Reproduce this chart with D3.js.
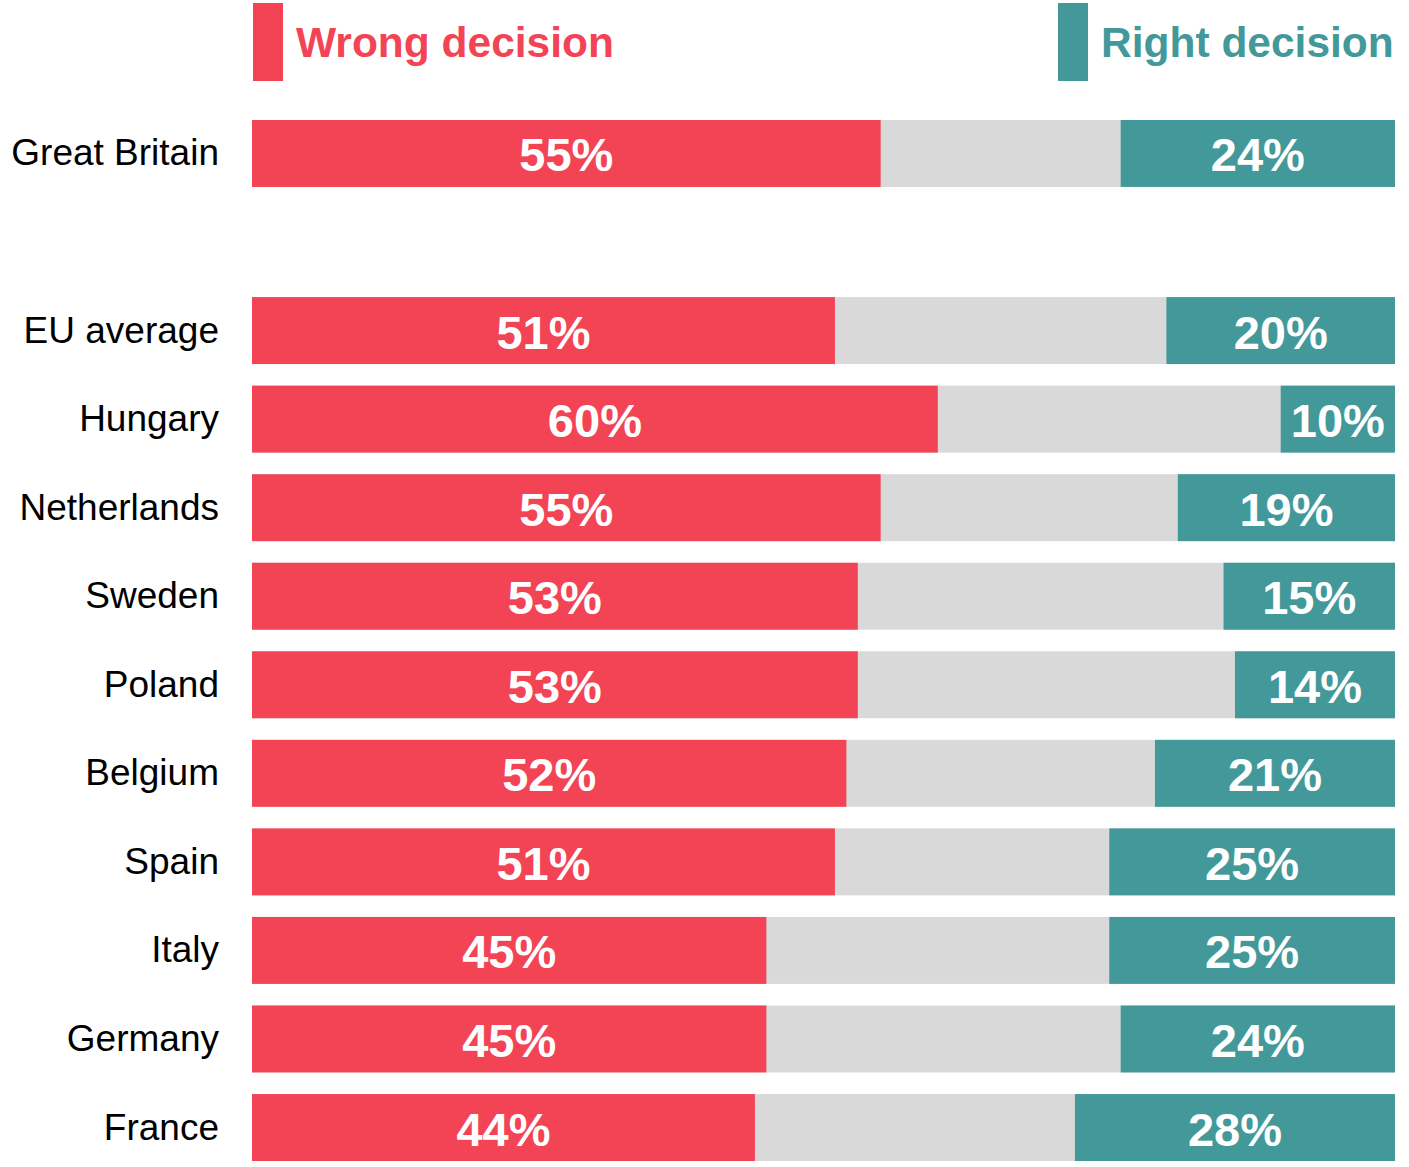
<!DOCTYPE html>
<html>
<head>
<meta charset="utf-8">
<script src="https://cdn.jsdelivr.net/npm/d3@7"></script>
<style>
  html, body { margin: 0; padding: 0; background: #fff; }
  svg { display: block; font-family: "Liberation Sans", Arial, sans-serif; }
</style>
</head>
<body>
<div id="chart"></div>
<script>
// rows, top to bottom ("" is the empty slot between GB and the EU block)
const countries = ['Great Britain', '', 'EU average', 'Hungary', 'Netherlands', 'Sweden',
    'Poland', 'Belgium', 'Spain', 'Italy', 'Germany', 'France'];
const wrongValues = [55, null, 51, 60, 55, 53, 53, 52, 51, 45, 45, 44];
const rightValues = [24, null, 20, 10, 19, 15, 14, 21, 25, 25, 24, 28];
const seriesNames = ['Wrong decision', 'Right decision'];

const colors = {
    wrong: '#f24455',
    right: '#43999a',
    rest: '#d9d9d9'
};

const width = 1409, height = 1167;

const svg = d3.select('#chart')
    .append('svg')
    .attr('width', width)
    .attr('height', height);

const x = d3.scaleLinear().domain([0, 100]).range([252, 1395]);
const y = d3.scaleBand()
    .domain(countries.map((c, i) => i))
    .range([120, 1161])
    .paddingInner(0.244)
    .paddingOuter(0);

const rows = countries.map((name, i) => ({
    i, name, wrong: wrongValues[i], right: rightValues[i]
})).filter(d => d.wrong !== null);

// legend
const legend = [
    { name: seriesNames[0], color: colors.wrong, x: 253 },
    { name: seriesNames[1], color: colors.right, x: 1058 }
];
legend.forEach(l => {
    svg.append('rect')
        .attr('x', l.x).attr('y', 3)
        .attr('width', 30).attr('height', 78)
        .attr('fill', l.color);
    svg.append('text')
        .attr('x', l.x + 43).attr('y', 57)
        .attr('fill', l.color)
        .attr('font-size', 42.5)
        .attr('font-weight', 'bold')
        .text(l.name);
});

const g = svg.append('g');
const bh = y.bandwidth();

// grey background (the "don't know" part)
g.selectAll('rect.rest')
    .data(rows)
    .join('rect')
    .attr('class', 'rest')
    .attr('x', x(0))
    .attr('y', d => y(d.i))
    .attr('width', x(100) - x(0))
    .attr('height', bh)
    .attr('fill', colors.rest);

g.selectAll('rect.wrong')
    .data(rows)
    .join('rect')
    .attr('class', 'wrong')
    .attr('x', x(0))
    .attr('y', d => y(d.i))
    .attr('width', d => x(d.wrong) - x(0))
    .attr('height', bh)
    .attr('fill', colors.wrong);

g.selectAll('rect.right')
    .data(rows)
    .join('rect')
    .attr('class', 'right')
    .attr('x', d => x(100 - d.right))
    .attr('y', d => y(d.i))
    .attr('width', d => x(100) - x(100 - d.right))
    .attr('height', bh)
    .attr('fill', colors.right);

// value labels
g.selectAll('text.wlab')
    .data(rows)
    .join('text')
    .attr('class', 'wlab')
    .attr('x', d => (x(0) + x(d.wrong)) / 2)
    .attr('y', d => y(d.i) + bh / 2 + 18)
    .attr('text-anchor', 'middle')
    .attr('fill', '#fff')
    .attr('font-size', 47)
    .attr('font-weight', 'bold')
    .text(d => d.wrong + '%');

g.selectAll('text.rlab')
    .data(rows)
    .join('text')
    .attr('class', 'rlab')
    .attr('x', d => (x(100 - d.right) + x(100)) / 2)
    .attr('y', d => y(d.i) + bh / 2 + 18)
    .attr('text-anchor', 'middle')
    .attr('fill', '#fff')
    .attr('font-size', 47)
    .attr('font-weight', 'bold')
    .text(d => d.right + '%');

// country names
g.selectAll('text.name')
    .data(rows)
    .join('text')
    .attr('class', 'name')
    .attr('x', 219)
    .attr('y', d => y(d.i) + bh / 2 + 12)
    .attr('text-anchor', 'end')
    .attr('fill', '#000')
    .attr('font-size', 37)
    .text(d => d.name);
</script>
</body>
</html>
